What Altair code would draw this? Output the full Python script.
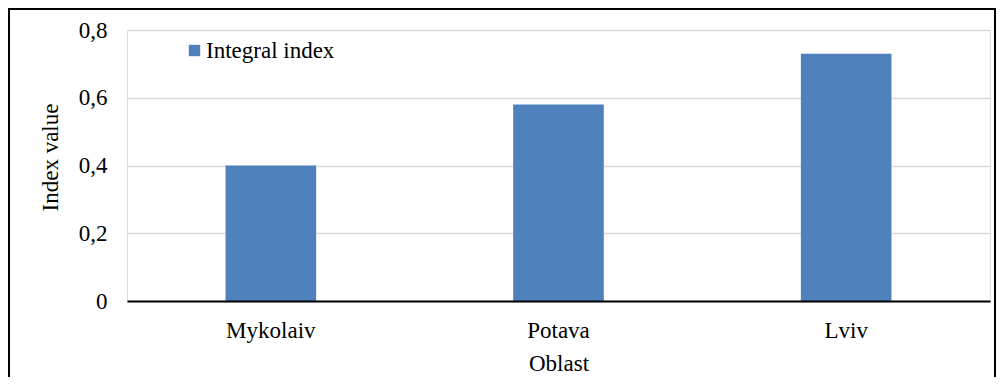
import altair as alt
import pandas as pd

categories = ["Mykolaiv", "Potava", "Lviv"]
values = [0.40, 0.58, 0.73]
series_name = "Integral index"
y_ticks = [0, 0.2, 0.4, 0.6, 0.8]

df = pd.DataFrame({"Oblast": categories, "value": values, "series": [series_name] * len(categories)})

FONT = "Liberation Serif"
FS = 23

bars = alt.Chart(df).mark_bar(color="#4F81BD").encode(
    x=alt.X(
        "Oblast:N",
        sort=None,
        scale=alt.Scale(paddingInner=0.685, paddingOuter=0.3425),
        axis=alt.Axis(
            title="Oblast", labelAngle=0, ticks=False, grid=False,
            domain=True, domainColor="black", domainWidth=2, zindex=1,
            labelPadding=18, labelFont=FONT, labelFontSize=FS, labelColor="black",
            titleFont=FONT, titleFontSize=FS, titleFontWeight="normal", titleColor="black",
            titleBaseline="middle", titleY=62,
        ),
    ),
    y=alt.Y(
        "value:Q",
        scale=alt.Scale(domain=[0, 0.8], nice=False),
        axis=alt.Axis(
            title="Index value", values=y_ticks, ticks=False, domain=False,
            grid=True, gridColor="#d9d9d9", gridWidth=1.5,
            labelExpr="datum.value == 0 ? '0' : replace(format(datum.value, '.1f'), '.', ',')",
            labelPadding=20, labelFont=FONT, labelFontSize=FS, labelColor="black",
            titleFont=FONT, titleFontSize=FS, titleFontWeight="normal", titleColor="black",
            titleBaseline="middle", titleX=-77, titleY=127, titleAngle=-90,
        ),
    ),
    color=alt.Color(
        "series:N",
        scale=alt.Scale(range=["#4F81BD"]),
        legend=alt.Legend(
            title=None, orient="none", legendX=56, legendY=9, padding=0,
            symbolType="square", symbolSize=130, symbolStrokeWidth=0, symbolOpacity=1,
            labelFont=FONT, labelFontSize=FS, labelColor="black", labelOffset=0,
        ),
    ),
)

frame = alt.Chart(pd.DataFrame({"a": [0]})).mark_rect(
    fillOpacity=0, stroke="black", strokeWidth=2
).encode(
    x=alt.value(-118), x2=alt.value(868), y=alt.value(-21), y2=alt.value(420)
)

chart = alt.layer(bars, frame).properties(
    width=863, height=271,
    autosize=alt.AutoSizeParams(type="none"),
    padding={"left": 119, "top": 22, "right": 6, "bottom": 76},
).configure_view(stroke="black", strokeWidth=2).configure(background="white")

chart.save("out.html", embed_options={"renderer": "svg", "actions": False})
